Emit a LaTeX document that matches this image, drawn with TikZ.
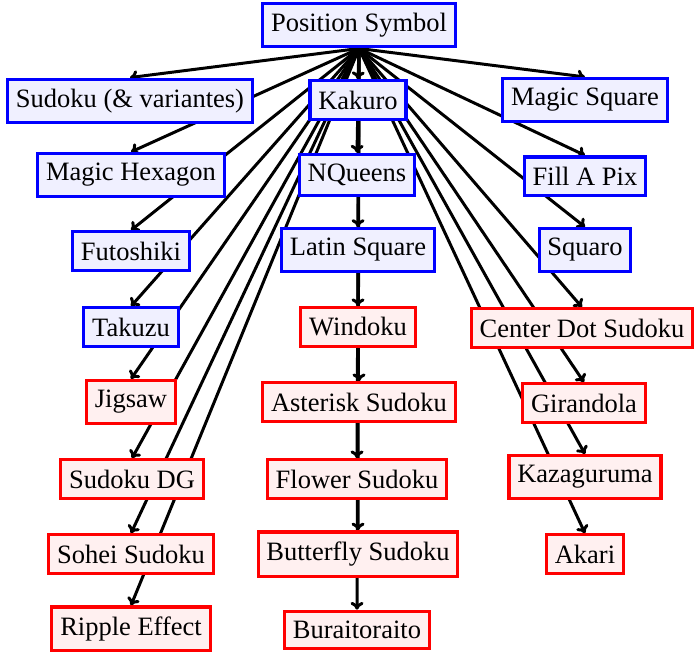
\documentclass[tikz,border=0pt]{standalone}
\usepackage{fontspec}
\setmainfont{Liberation Serif}
\usetikzlibrary{backgrounds,arrows.meta}
\begin{document}
\begin{tikzpicture}[x=0.385pt,y=-0.385pt,
  base/.style={line width=1.2pt,inner xsep=3.2pt,inner ysep=3.8pt,font=\fontsize{10.2}{12}\selectfont},
  bnode/.style={base,draw=blue,fill=blue!6},
  rnode/.style={base,draw=red,fill=red!6},
  edge/.style={-{To[length=3pt,width=5pt]},line width=1.15pt}]
\useasboundingbox (0,0) rectangle (694,652);
\node[bnode] (root) at (359,25) {Position Symbol};
\node[bnode] (sudoku) at (130,101) {Sudoku (\& variantes)};
\node[bnode] (kakuro) at (358,100) {Kakuro};
\node[bnode] (msquare) at (585,100) {Magic Square};
\node[bnode] (mhex) at (131,175) {Magic Hexagon};
\node[bnode] (nqueens) at (357,175) {NQueens};
\node[bnode] (fillapix) at (585,176) {Fill A Pix};
\node[bnode] (futoshiki) at (131,251) {Futoshiki};
\node[bnode] (latin) at (358,250) {Latin Square};
\node[bnode] (squaro) at (585,250) {Squaro};
\node[bnode] (takuzu) at (131,327) {Takuzu};
\node[rnode] (windoku) at (358,327) {Windoku};
\node[rnode] (centerdot) at (582,328) {Center Dot Sudoku};
\node[rnode] (jigsaw) at (131,402) {Jigsaw};
\node[rnode] (asterisk) at (359,402) {Asterisk Sudoku};
\node[rnode] (girandola) at (584,403) {Girandola};
\node[rnode] (sudokudg) at (132,479) {Sudoku DG};
\node[rnode] (flower) at (357,479) {Flower Sudoku};
\node[rnode] (kazaguruma) at (585,477) {Kazaguruma};
\node[rnode] (sohei) at (131,554) {Sohei Sudoku};
\node[rnode] (butterfly) at (358,554) {Butterfly Sudoku};
\node[rnode] (akari) at (585,554) {Akari};
\node[rnode] (ripple) at (131,629) {Ripple Effect};
\node[rnode] (buraitoraito) at (357,630) {Buraitoraito};
\begin{pgfonlayer}{background}
\foreach \n in {sudoku,kakuro,msquare,mhex,nqueens,fillapix,futoshiki,latin,squaro,takuzu,windoku,centerdot,jigsaw,asterisk,girandola,sudokudg,flower,kazaguruma,sohei,butterfly,akari,ripple,buraitoraito}
  \draw[edge] (root.south) -- (\n.north);
\end{pgfonlayer}
\end{tikzpicture}
\end{document}
